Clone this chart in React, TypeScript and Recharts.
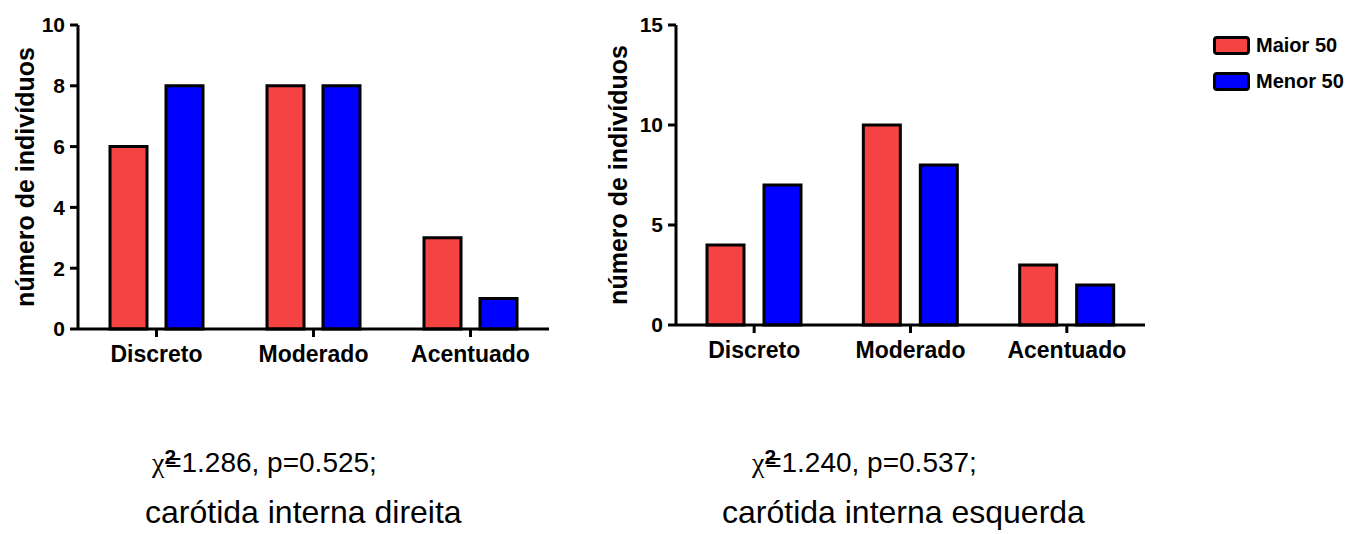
import React from "react"
import { BarChart, Bar, XAxis, YAxis, Legend } from "recharts"

// categories and counts
const categories = ["Discreto", "Moderado", "Acentuado"]
const seriesNames = ["Maior 50", "Menor 50"]
const seriesColors = ["#F54343", "#0000FF"]

const direitaMaior = [6, 8, 3]
const direitaMenor = [8, 8, 1]
const esquerdaMaior = [4, 10, 3]
const esquerdaMenor = [7, 8, 2]

const direitaTicks = [0, 2, 4, 6, 8, 10]
const esquerdaTicks = [0, 5, 10, 15]

const chiValues = ["1.286", "1.240"]
const pValues = ["0.525", "0.537"]
const captions = ["carótida interna direita", "carótida interna esquerda"]

const yLabel = "número de indivíduos"
const FONT = "'Liberation Sans', Arial, Helvetica, sans-serif"

function buildRows(maior: number[], menor: number[]) {
  return categories.map((name, i) => ({ name, maior: maior[i], menor: menor[i] }))
}

const renderLegend = (props: any) => {
  const payload = props.payload || []
  return (
    <div>
      {payload.map((entry: any, i: number) => (
        <div key={`leg-${i}`} style={{ display: "flex", alignItems: "center", height: 36 }}>
          <span
            style={{
              display: "inline-block",
              boxSizing: "border-box",
              width: 37,
              height: 19,
              background: seriesColors[i],
              border: "3px solid #000",
              borderRadius: 4,
              marginRight: 6,
            }}
          />
          <span style={{ fontFamily: FONT, fontWeight: "bold", fontSize: 20, color: "#000" }}>
            {entry.value}
          </span>
        </div>
      ))}
    </div>
  )
}

interface PanelProps {
  data: any[]
  ticks: number[]
  left: number
  width: number
  axisWidth: number
  marginRight: number
  bottom: number
  labelX: number
  barGap: number
  showLegend?: boolean
}

function Panel({ data, ticks, left, width, axisWidth, marginRight, bottom, labelX, barGap, showLegend }: PanelProps) {
  const axisStyle = { stroke: "#000", strokeWidth: 3 }
  return (
    <div style={{ position: "absolute", left, top: 0 }}>
      <BarChart
        width={width}
        height={400}
        data={data}
        margin={{ top: 25, right: marginRight, left: 0, bottom }}
        barGap={barGap}
        barSize={37}
      >
        <XAxis
          dataKey="name"
          interval={0}
          height={40}
          axisLine={axisStyle}
          tickLine={axisStyle}
          tickSize={8}
          tickMargin={9}
          tick={{ fill: "#000", fontSize: 23, fontWeight: "bold", fontFamily: FONT }}
        />
        <YAxis
          type="number"
          domain={[0, ticks[ticks.length - 1]]}
          ticks={ticks}
          interval={0}
          width={axisWidth}
          axisLine={axisStyle}
          tickLine={axisStyle}
          tickSize={8}
          tickMargin={5}
          tick={{ fill: "#000", fontSize: 21, fontWeight: "bold", fontFamily: FONT }}
          label={{
            value: yLabel,
            angle: -90,
            position: "center",
            dx: labelX - axisWidth / 2,
            fill: "#000",
            fontSize: 25,
            fontWeight: "bold",
            fontFamily: FONT,
          }}
        />
        {showLegend && (
          <Legend
            layout="vertical"
            align="center"
            verticalAlign="middle"
            content={renderLegend}
            wrapperStyle={{ position: "absolute", left: 623, top: 27, width: 140 }}
          />
        )}
        <Bar dataKey="maior" name={seriesNames[0]} fill={seriesColors[0]} stroke="#000" strokeWidth={3} isAnimationActive={false} />
        <Bar dataKey="menor" name={seriesNames[1]} fill={seriesColors[1]} stroke="#000" strokeWidth={3} isAnimationActive={false} />
      </BarChart>
    </div>
  )
}

function Caption({ left, chiLeft, index }: { left: number; chiLeft: number; index: number }) {
  return (
    <>
      <div
        style={{
          position: "absolute",
          left: chiLeft,
          top: 447,
          fontFamily: FONT,
          fontSize: 28,
          lineHeight: "32px",
          color: "#000",
          whiteSpace: "nowrap",
        }}
      >
        <span style={{ fontFamily: "'Liberation Serif', serif" }}>χ</span>
        <span style={{ fontWeight: "bold", fontSize: 21, position: "relative", top: -8, marginRight: -11 }}>2</span>
        {`=${chiValues[index]}, p=${pValues[index]};`}
      </div>
      <div
        style={{
          position: "absolute",
          left,
          top: 494,
          fontFamily: FONT,
          fontSize: 32,
          lineHeight: "36px",
          color: "#000",
          whiteSpace: "nowrap",
        }}
      >
        {captions[index]}
      </div>
    </>
  )
}

export default function App() {
  return (
    <div style={{ position: "absolute", left: 0, top: 0, width: 1353, height: 534, background: "#fff", overflow: "hidden" }}>
      <Panel
        data={buildRows(direitaMaior, direitaMenor)}
        ticks={direitaTicks}
        left={0}
        width={600}
        axisWidth={78}
        marginRight={51}
        bottom={31}
        labelX={25}
        barGap={19}
      />
      <Panel
        data={buildRows(esquerdaMaior, esquerdaMenor)}
        ticks={esquerdaTicks}
        left={590}
        width={763}
        axisWidth={86}
        marginRight={208}
        bottom={35}
        labelX={28}
        barGap={20}
        showLegend
      />
      <Caption left={145} chiLeft={152} index={0} />
      <Caption left={722} chiLeft={752} index={1} />
    </div>
  )
}
